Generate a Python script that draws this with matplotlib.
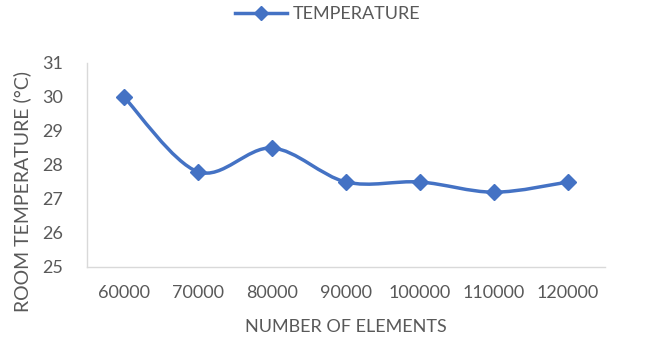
import matplotlib
matplotlib.use("Agg")
import matplotlib.pyplot as plt
from matplotlib.path import Path
from matplotlib.patches import PathPatch
from matplotlib.lines import Line2D

elements = ['60000', '70000', '80000', '90000', '100000', '110000', '120000']
temperature = [30.0, 27.8, 28.5, 27.5, 27.5, 27.2, 27.5]

blue = '#4472C4'
grey_text = '#595959'
grey_line = '#D9D9D9'

plt.rcParams['font.family'] = ['Lato', 'DejaVu Sans']

fig = plt.figure(figsize=(6.49, 3.39), dpi=100)
ax = fig.add_axes([87 / 649, 72 / 339, 518 / 649, 204 / 339])

x = list(range(len(elements)))

# Excel-like smoothed line: cubic Bezier through points (Catmull-Rom control points)
verts = [(x[0], temperature[0])]
codes = [Path.MOVETO]
n = len(x)
for i in range(n - 1):
    p0 = (x[max(i - 1, 0)], temperature[max(i - 1, 0)])
    p1 = (x[i], temperature[i])
    p2 = (x[i + 1], temperature[i + 1])
    p3 = (x[min(i + 2, n - 1)], temperature[min(i + 2, n - 1)])
    c1 = (p1[0] + (p2[0] - p0[0]) / 6, p1[1] + (p2[1] - p0[1]) / 6)
    c2 = (p2[0] - (p3[0] - p1[0]) / 6, p2[1] - (p3[1] - p1[1]) / 6)
    verts += [c1, c2, p2]
    codes += [Path.CURVE4] * 3
ax.add_patch(PathPatch(Path(verts, codes), facecolor='none', edgecolor=blue,
                       lw=2.5, capstyle='round', joinstyle='round', zorder=2))
ax.plot(x, temperature, linestyle='none', marker='D', markersize=8,
        color=blue, zorder=3)

ax.set_xlim(-0.5, n - 0.5)
ax.set_ylim(25, 31)
ax.set_xticks(x)
ax.set_xticklabels(elements)
ax.set_yticks(range(25, 32))

for s in ['top', 'right']:
    ax.spines[s].set_visible(False)
for s in ['left', 'bottom']:
    ax.spines[s].set_color(grey_line)
    ax.spines[s].set_linewidth(1)
ax.tick_params(length=0, labelsize=13, colors=grey_text)
ax.tick_params(axis='x', pad=13)
ax.tick_params(axis='y', pad=17)

ax.set_xlabel('NUMBER OF ELEMENTS', fontsize=13, color=grey_text, labelpad=13)
ax.set_ylabel('ROOM TEMPERATURE (°C)', fontsize=14, color=grey_text)
ax.yaxis.set_label_coords(-0.108, 0.37)

handle = Line2D([], [], color=blue, lw=2.5, marker='D', markersize=7)
fig.legend([handle], ['TEMPERATURE'], loc='center left',
           bbox_to_anchor=(235 / 649, 1 - 14 / 339), borderpad=0,
           borderaxespad=0, frameon=False, fontsize=13, labelcolor=grey_text,
           handlelength=2.9, handletextpad=0.3)

fig.savefig('out.png', dpi=100)
